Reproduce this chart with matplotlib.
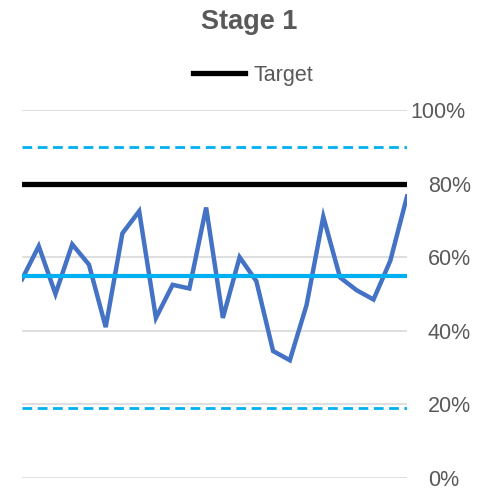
import matplotlib.pyplot as plt
from matplotlib.ticker import PercentFormatter
from matplotlib.transforms import ScaledTranslation

plt.rcParams['font.family'] = ['Liberation Sans', 'DejaVu Sans']

# weekly rates (%) for stage 1
values = [54, 63, 50, 63.5, 58, 41, 66.5, 72.5, 43.5, 52.5, 51.5, 73.5,
          43.5, 60, 53.5, 34.5, 32, 47, 71, 54.5, 51, 48.5, 59, 76.5]
center = 55
upper = 90
lower = 19
target = 80
yticks = [0, 20, 40, 60, 80, 100]

n = len(values)
xs = list(range(n))

fig = plt.figure(figsize=(4.79, 4.90), dpi=100)
ax = fig.add_axes([22 / 479, 12 / 490, (407 - 22) / 479, (478 - 110) / 490])

ax.plot(xs, values, color='#4472C4', lw=3.2, solid_joinstyle='miter', zorder=3)
ax.plot(xs, [center] * n, color='#00B0F0', lw=3.0, zorder=4)
ax.plot(xs, [upper] * n, color='#00B0F0', lw=2.0, dashes=(3.5, 2.0), zorder=4)
ax.plot(xs, [lower] * n, color='#00B0F0', lw=2.0, dashes=(3.5, 2.0), zorder=4)
ax.plot(xs, [target] * n, color='black', lw=3.8, zorder=5, label='Target')

ax.set_xlim(0, n - 1)
ax.set_ylim(0, 100)
ax.set_yticks(yticks)
ax.yaxis.set_major_formatter(PercentFormatter(decimals=0))
ax.yaxis.tick_right()
ax.tick_params(axis='y', length=0, pad=15, labelsize=15.5, labelcolor='#595959')
ax.set_xticks([])
ax.grid(axis='y', color='#D9D9D9', lw=1.2, zorder=0)
for s in ax.spines.values():
    s.set_visible(False)

# pull the widest label (100%) left so it stays inside the figure
top_label = ax.yaxis.get_major_ticks()[-1].label2
top_label.set_transform(top_label.get_transform()
                        + ScaledTranslation(-0.17, 0, fig.dpi_scale_trans))

fig.text(0.52, 1 - 22 / 490, 'Stage 1', ha='center', va='center',
         fontsize=19.5, fontweight='bold', color='#595959')
fig.legend(loc='center', bbox_to_anchor=(253 / 479, 1 - 75 / 490), frameon=False,
           fontsize=15.5, handlelength=2.4, handletextpad=0.4, labelcolor='#595959')

fig.savefig('out.png', dpi=100)
